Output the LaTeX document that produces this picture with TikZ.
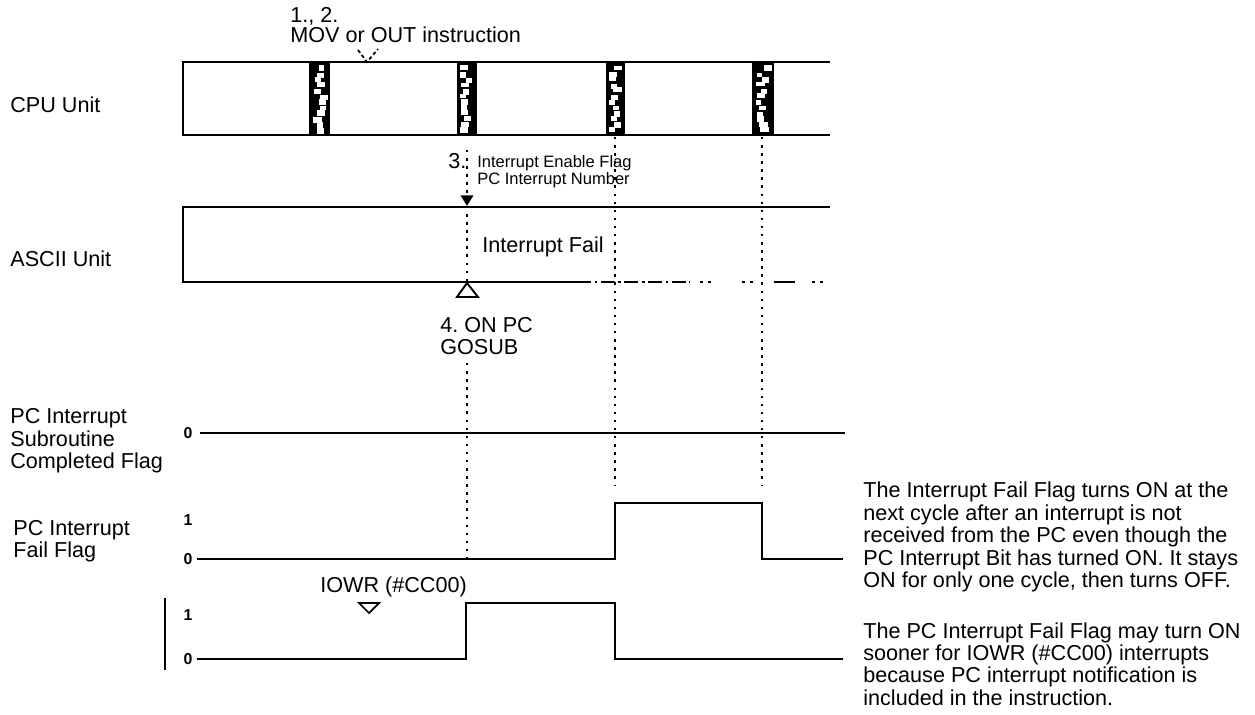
\documentclass[tikz,border=0pt]{standalone}
\usepackage{fontspec}
\setmainfont{Liberation Sans}
\usetikzlibrary{arrows.meta}
\frenchspacing

\begin{document}
\begin{tikzpicture}[
		x=0.02cm, y=-0.02cm,
		lbl/.style={
			anchor=west,
			inner sep=0pt,
			align=left,
			font=\fontsize{12.3}{12.8}\selectfont
		},
		small/.style={
			anchor=west,
			inner sep=0pt,
			align=left,
			font=\fontsize{9.4}{8.6}\selectfont
		},
		lvl/.style={inner sep=0pt, font=\fontsize{9}{9}\selectfont\bfseries},
		band/.style={line width=1.3pt},
		sig/.style={line width=1.2pt},
		vdot/.style={line width=1.3pt, dash pattern=on 1.4pt off 3.2pt},
		busy/.style={draw, line width=1pt, fill=black}
		]
		
		\useasboundingbox (0,0) rectangle (1255,714);
		\pgfmathsetseed{7}
		
		% unit names and flag names
		\node[lbl] (cpulbl) at (10,105) {CPU Unit};
		\node[lbl] (asciilbl) at (10,259) {ASCII Unit};
		\node[lbl] (donelbl) at (10,441) {PC Interrupt\\Subroutine\\Completed Flag};
		\node[lbl] (faillbl) at (13,541) {PC Interrupt\\Fail Flag};
		
		% CPU Unit cycles
		\draw[band] (830,62) -- (183,62) -- (183,135) -- (830,135);
		\foreach \xa/\xb in {310/329, 458/476, 607/624, 753/773} {
			\filldraw[busy] (\xa,62) rectangle (\xb,135);
			\foreach \k in {0,...,11} {
				\pgfmathsetmacro{\bx}{\xa+2+rnd*(\xb-\xa-11)}
				\pgfmathsetmacro{\by}{65+\k*5.6+rnd*2}
				\fill[white] (\bx,\by) rectangle ++(5+rnd*4,4+rnd*2);
			}
		}
		
		% ASCII Unit
		\draw[band] (830,207) -- (183,207) -- (183,282) -- (577,282);
		\draw[band, dash pattern=on 8pt off 2pt on 1.5pt off 2pt] (577,282) -- (690,282);
		\draw[band, dash pattern=on 1.5pt off 3pt on 1.5pt off 18pt on 1.5pt off 3pt on 1.5pt off 12pt on 12pt off 10pt] (700,282) -- (832,282);
		\node[lbl] (faillabel) at (482,247) {Interrupt Fail};
		
		% steps
		\node[lbl] (movlbl) at (290,25) {1., 2.\\[-1.6pt]MOV or OUT instruction};
		\coordinate (movtip) at (367,62);
		\draw[line width=1pt, dash pattern=on 2pt off 1.5pt] (358,50) -- (movtip) -- (378,49);
		
		\node[lbl] (step3) at (448,161) {3.};
		\node[small] (enable) at (477,172) {Interrupt Enable Flag\\PC Interrupt Number};
		\coordinate (top3) at (467,150);
		\coordinate (hit3) at (467,206);
		\coordinate (low3) at (467,283);
		\draw[vdot, -{Triangle[width=7pt,length=6pt]}] (top3) -- (hit3);
		\draw[vdot] (hit3) -- (low3);
		\draw[line width=1.1pt] (low3) -- (478,297) -- (457,297) -- cycle;
		
		\node[lbl] (step4) at (440,336) {4. ON PC\\GOSUB};
		\coordinate (go4) at (467,363);
		\coordinate (end4) at (467,559);
		\draw[vdot] (go4) -- (end4);
		
		% later cycles
		\foreach \xc in {615, 762}
			\draw[vdot] (\xc,137) -- (\xc,486);
		
		% PC Interrupt Subroutine Completed Flag
		\node[lvl] (done0) at (188,433) {0};
		\draw[sig] (200,433) -- (845,433);
		
		% PC Interrupt Fail Flag
		\node[lvl] (fail1) at (188,520) {1};
		\node[lvl] (fail0) at (188,559) {0};
		\draw[sig] (197,559) -- (615,559) -- (615,503) -- (762,503) -- (762,559) -- (843,559);
		
		% IOWR (#CC00)
		\node[lbl] (iowr) at (320,587) {IOWR (\#CC00)};
		\draw[line width=1pt] (359,603) -- (379,603) -- (369,613) -- cycle;
		\node[lvl] (iowr1) at (188,615) {1};
		\node[lvl] (iowr0) at (188,659) {0};
		\draw[sig] (165,598) -- (165,670);
		\draw[sig] (197,659) -- (466,659) -- (466,603) -- (615,603) -- (615,659) -- (843,659);
		
		% notes
		\node[lbl] (note1) at (863,537) {The Interrupt Fail Flag turns ON at the\\next cycle after an interrupt is not\\received from the PC even though the\\PC Interrupt Bit has turned ON. It stays\\ON for only one cycle, then turns OFF.};
		\node[lbl] (note2) at (863,664) {The PC Interrupt Fail Flag may turn ON\\sooner for IOWR (\#CC00) interrupts\\because PC interrupt notification is\\included in the instruction.};
		
	\end{tikzpicture}
\end{document}
